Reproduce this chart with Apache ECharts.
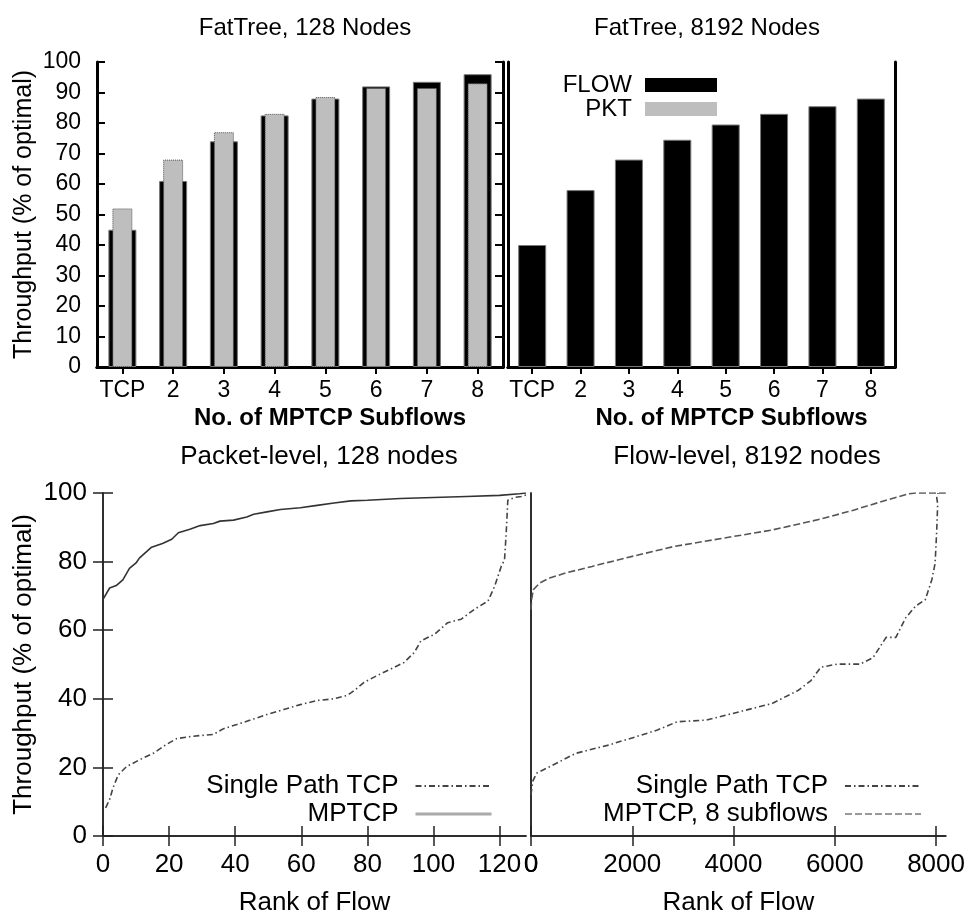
<!DOCTYPE html>
<html>
<head>
<meta charset="utf-8">
<title>MPTCP FatTree throughput</title>
<script src="https://cdn.jsdelivr.net/npm/echarts@6/dist/echarts.min.js"></script>
<style>
  html, body { margin: 0; padding: 0; background: #fff; }
  #container { width: 968px; height: 917px; }
</style>
</head>
<body>
<div id="container"></div>
<script>
// subflow bar charts (top row)
var subflowCats = ['TCP', '2', '3', '4', '5', '6', '7', '8'];
var flow128 = [45, 61, 74, 82.5, 88, 92, 93.5, 96];
var pkt128 = [52, 68, 77, 83, 88.5, 91.5, 91.5, 93];
var flow8192 = [40, 58, 68, 74.5, 79.5, 83, 85.5, 88];

// rank axis tick labels
var rankTicks128 = [0, 20, 40, 60, 80, 100, 120];
var rankTicks8192 = [0, 2000, 4000, 6000, 8000];

// rank of flow curves (bottom row), [rank, throughput %]
var tcp128 = [[0.8, 8.2], [2, 10.6], [3, 14], [4.6, 17.8], [7.1, 20.2], [11, 22.2], [15.2, 24.1], [19.2, 26.7],
  [22.3, 28.4], [27.3, 29.1], [33.4, 29.6], [36.5, 31.3], [40.5, 32.5], [44.6, 33.8], [49.6, 35.4], [54.7, 36.9],
  [59.7, 38.3], [64.8, 39.5], [69.9, 40], [73.9, 41], [76, 42.4], [79, 44.8], [83, 46.8], [87.1, 48.7],
  [91.1, 50.6], [94.2, 53.5], [96.2, 56.9], [100.3, 58.8], [104.3, 62.2], [108.4, 63.2], [112.4, 66.1],
  [116.5, 68.5], [118.5, 72.8], [120.5, 78.6], [121.5, 80.5], [122, 88.2], [122.5, 97.9], [124.6, 98.7],
  [126.6, 99], [128, 99.4]];
var mptcp128 = [[0, 69], [2, 72.3], [4, 73], [6, 74.7], [8, 78], [10, 79.6], [11, 81], [14.7, 84.2], [18, 85.3],
  [20.8, 86.5], [22.8, 88.4], [26.3, 89.4], [29.4, 90.5], [33.4, 91.1], [35.4, 91.8], [39.5, 92.1], [43.5, 93],
  [45.6, 93.8], [49.6, 94.5], [53.7, 95.2], [59.7, 95.7], [64.8, 96.4], [69.9, 97.1], [75, 97.7], [80, 97.9],
  [90, 98.4], [100, 98.7], [110, 99], [120, 99.3], [126, 99.8], [128, 100]];
var tcp8192 = [[0, 12], [32, 15.9], [110, 18.3], [368, 20.2], [884, 24.1], [1529, 26.5], [2174, 29.4],
  [2497, 30.9], [2884, 33.3], [3465, 33.8], [4110, 36.2], [4755, 38.6], [5271, 42.4], [5529, 45.3],
  [5723, 49.2], [6045, 50.1], [6497, 50.1], [6755, 52], [7013, 57.9], [7206, 57.9], [7400, 63.6],
  [7594, 67], [7787, 68.9], [7916, 74.7], [7981, 79.5], [8013, 89.2], [8032, 96.9], [8013, 98.5], [8040, 100]];
var mptcp8192 = [[0, 66], [13, 69], [45, 71.8], [174, 73.8], [368, 75.2], [690, 76.7], [1206, 78.6],
  [1852, 81], [2819, 84.4], [3787, 86.8], [4755, 89.2], [5723, 92.4], [6368, 95], [7013, 97.9],
  [7465, 99.8], [7600, 100], [8192, 100]];

var font = 'Liberation Sans';
var myChart = echarts.init(document.getElementById('container'));

function frameAxis(extra) {
	var base = {
		axisLine : { show : true, lineStyle : { color : '#000', width : 3 } },
		axisTick : { show : false },
		axisLabel : { show : false },
		splitLine : { show : false }
	};
	return Object.assign(base, extra);
}

function plain(v) {
	return String(v);
}

function rankLabel(values) {
	return { show : true, fontSize : 26, margin : 16, color : '#000', fontFamily : font,
		customValues : values, showMinLabel : true, showMaxLabel : true, hideOverlap : false, formatter : plain };
}

function rankTick(values) {
	return { show : true, inside : true, length : 10, customValues : values, lineStyle : { color : '#222', width : 1.5 } };
}

var barTick = { show : true, inside : true, length : 7, alignWithLabel : true, lineStyle : { color : '#000', width : 2 } };
var valTick = { show : true, inside : true, length : 8, lineStyle : { color : '#000', width : 2 } };
var lineTick = { show : true, inside : true, length : 10, lineStyle : { color : '#222', width : 1.5 } };
var thinLine = { show : true, lineStyle : { color : '#222', width : 1.5 } };
var barLabel = { show : true, interval : 0, fontSize : 23, margin : 12, color : '#000', fontFamily : font };

myChart.setOption({
	animation : false,
	textStyle : { fontFamily : font, color : '#000' },
	title : [
		{ text : 'FatTree, 128 Nodes', left : 300, top : 11, textAlign : 'center',
			textStyle : { fontFamily : font, fontSize : 24, fontWeight : 'normal', color : '#000' } },
		{ text : 'FatTree, 8192 Nodes', left : 702, top : 11, textAlign : 'center',
			textStyle : { fontFamily : font, fontSize : 24, fontWeight : 'normal', color : '#000' } },
		{ text : 'Packet-level, 128 nodes', left : 314, top : 439, textAlign : 'center',
			textStyle : { fontFamily : font, fontSize : 26, fontWeight : 'normal', color : '#000' } },
		{ text : 'Flow-level, 8192 nodes', left : 742, top : 439, textAlign : 'center',
			textStyle : { fontFamily : font, fontSize : 26, fontWeight : 'normal', color : '#000' } }
	],
	legend : [
		{
			data : [ 'FLOW', 'PKT' ],
			orient : 'vertical', align : 'right', right : 251, top : 73, padding : 0,
			icon : 'rect', itemWidth : 72, itemHeight : 14, itemGap : 0,
			itemStyle : { borderWidth : 0 },
			textStyle : { fontFamily : font, fontSize : 24, color : '#000', padding : [ 0, 8, 0, 0 ] }
		},
		{
			data : [ { name : 'Single Path TCP' }, { name : 'MPTCP', lineStyle : { color : '#aaa', width : 3, type : 'solid' } } ],
			orient : 'vertical', align : 'right', right : 475, top : 773, padding : 0,
			itemWidth : 76, itemHeight : 14, itemGap : 2,
			textStyle : { fontFamily : font, fontSize : 26, color : '#000', padding : [ 0, 12, 0, 0 ] }
		},
		{
			data : [ { name : 'Single Path TCP' }, { name : 'MPTCP, 8 subflows', lineStyle : { color : '#999', width : 2, type : [ 7, 3 ] } } ],
			orient : 'vertical', align : 'right', right : 46, top : 773, padding : 0,
			itemWidth : 76, itemHeight : 14, itemGap : 2,
			textStyle : { fontFamily : font, fontSize : 26, color : '#000', padding : [ 0, 12, 0, 0 ] }
		}
	],
	grid : [
		{ left : 97, top : 62, width : 406, height : 305 },
		{ left : 508, top : 62, width : 387, height : 305 },
		{ left : 103, top : 493, width : 423, height : 345 },
		{ left : 531, top : 493, width : 423, height : 345 }
	],
	xAxis : [
		frameAxis({ type : 'category', gridIndex : 0, data : subflowCats, position : 'bottom',
			axisTick : barTick, axisLabel : barLabel,
			name : 'No. of MPTCP Subflows', nameLocation : 'middle', nameGap : 39,
			nameTextStyle : { fontSize : 24, fontWeight : 'bold', color : '#000', fontFamily : font, padding : [ 0, 0, 0, 60 ] } }),
		frameAxis({ type : 'category', gridIndex : 0, data : subflowCats, position : 'top', axisTick : barTick }),
		frameAxis({ type : 'category', gridIndex : 1, data : subflowCats, position : 'bottom',
			axisTick : barTick, axisLabel : barLabel,
			name : 'No. of MPTCP Subflows', nameLocation : 'middle', nameGap : 39,
			nameTextStyle : { fontSize : 24, fontWeight : 'bold', color : '#000', fontFamily : font, padding : [ 0, 0, 0, 60 ] } }),
		frameAxis({ type : 'category', gridIndex : 1, data : subflowCats, position : 'top', axisTick : barTick }),
		frameAxis({ type : 'value', gridIndex : 2, position : 'bottom', min : 0, max : 128,
			axisLine : thinLine, axisTick : rankTick(rankTicks128), axisLabel : rankLabel(rankTicks128),
			name : 'Rank of Flow', nameLocation : 'middle', nameGap : 54,
			nameTextStyle : { fontSize : 26, color : '#000', fontFamily : font } }),
		frameAxis({ type : 'value', gridIndex : 2, position : 'top', min : 0, max : 128,
			axisLine : thinLine, axisTick : rankTick(rankTicks128) }),
		frameAxis({ type : 'value', gridIndex : 3, position : 'bottom', min : 0, max : 8192,
			axisLine : thinLine, axisTick : rankTick(rankTicks8192), axisLabel : rankLabel(rankTicks8192),
			name : 'Rank of Flow', nameLocation : 'middle', nameGap : 54,
			nameTextStyle : { fontSize : 26, color : '#000', fontFamily : font } }),
		frameAxis({ type : 'value', gridIndex : 3, position : 'top', min : 0, max : 8192,
			axisLine : thinLine, axisTick : rankTick(rankTicks8192) })
	],
	yAxis : [
		frameAxis({ type : 'value', gridIndex : 0, position : 'left', min : 0, max : 100, interval : 10,
			axisTick : valTick,
			axisLabel : { show : true, fontSize : 23, margin : 16, color : '#000', fontFamily : font },
			name : 'Throughput (% of optimal)', nameLocation : 'middle', nameGap : 60,
			nameTextStyle : { fontSize : 25, color : '#000', fontFamily : font } }),
		frameAxis({ type : 'value', gridIndex : 0, position : 'right', min : 0, max : 100, interval : 10, axisTick : valTick }),
		frameAxis({ type : 'value', gridIndex : 1, position : 'left', min : 0, max : 100, interval : 10 }),
		frameAxis({ type : 'value', gridIndex : 1, position : 'right', min : 0, max : 100, interval : 10 }),
		frameAxis({ type : 'value', gridIndex : 2, position : 'left', min : 0, max : 100, interval : 20,
			axisLine : thinLine, axisTick : lineTick,
			axisLabel : { show : true, fontSize : 26, margin : 16, color : '#000', fontFamily : font },
			name : 'Throughput (% of optimal)', nameLocation : 'middle', nameGap : 66,
			nameTextStyle : { fontSize : 26, color : '#000', fontFamily : font } }),
		frameAxis({ type : 'value', gridIndex : 2, position : 'right', min : 0, max : 100, interval : 20,
			axisLine : thinLine, axisTick : lineTick }),
		frameAxis({ type : 'value', gridIndex : 3, position : 'left', min : 0, max : 100, interval : 20, axisLine : thinLine }),
		frameAxis({ type : 'value', gridIndex : 3, position : 'right', min : 0, max : 100, interval : 20, axisLine : thinLine })
	],
	series : [
		{ name : 'FLOW', type : 'bar', xAxisIndex : 0, yAxisIndex : 0, data : flow128, barWidth : 28,
			itemStyle : { color : '#000', borderColor : '#777', borderWidth : 1 } },
		{ name : 'PKT', type : 'bar', xAxisIndex : 1, yAxisIndex : 0, data : pkt128, barWidth : 20, z : 3,
			itemStyle : { color : '#bebebe', borderColor : '#555', borderWidth : 1, borderType : 'dotted' } },
		{ name : 'FLOW', type : 'bar', xAxisIndex : 2, yAxisIndex : 2, data : flow8192, barWidth : 28,
			itemStyle : { color : '#000', borderColor : '#777', borderWidth : 1 } },
		{ name : 'Single Path TCP', type : 'line', xAxisIndex : 4, yAxisIndex : 4, data : tcp128,
			symbol : 'none', itemStyle : { opacity : 0 },
			lineStyle : { color : '#444', width : 1.6, type : [ 6, 3, 1.5, 3 ] } },
		{ name : 'MPTCP', type : 'line', xAxisIndex : 4, yAxisIndex : 4, data : mptcp128,
			symbol : 'none', itemStyle : { opacity : 0 },
			lineStyle : { color : '#333', width : 1.6 } },
		{ name : 'Single Path TCP', type : 'line', xAxisIndex : 6, yAxisIndex : 6, data : tcp8192,
			symbol : 'none', itemStyle : { opacity : 0 },
			lineStyle : { color : '#444', width : 1.6, type : [ 6, 3, 1.5, 3 ] } },
		{ name : 'MPTCP, 8 subflows', type : 'line', xAxisIndex : 6, yAxisIndex : 6, data : mptcp8192,
			symbol : 'none', itemStyle : { opacity : 0 },
			lineStyle : { color : '#555', width : 1.6, type : [ 7, 3 ] } }
	]
});

// the 8192-node rank axis hides its "0" label next to the 128-node panel,
// so put it back where the axis scale places 0
var origin = myChart.convertToPixel({ gridIndex : 3 }, [ rankTicks8192[0], 0 ]);
if (origin && isFinite(origin[0])) {
	myChart.setOption({
		graphic : [ {
			type : 'text',
			z : 100,
			left : Math.round(origin[0] - 7),
			top : Math.round(origin[1] + 16),
			style : { text : String(rankTicks8192[0]), fontSize : 26, fontFamily : font, fill : '#000' }
		} ]
	});
}
</script>
</body>
</html>
